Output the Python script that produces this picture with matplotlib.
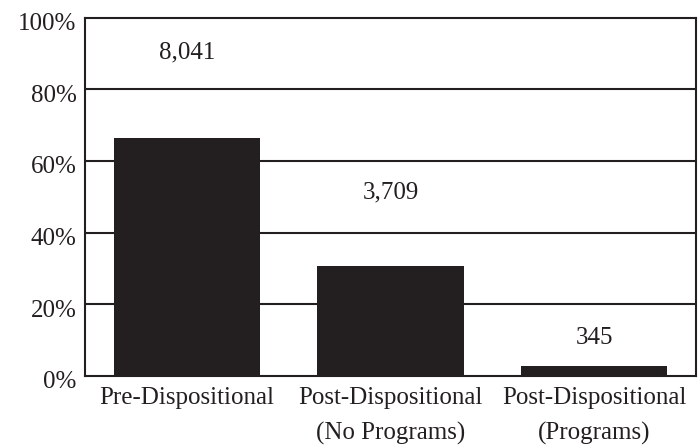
import matplotlib.pyplot as plt
import matplotlib.transforms as mtransforms
import numpy as np

# data
categories = ["Pre-Dispositional", "Post-Dispositional\n(No Programs)", "Post-Dispositional\n(Programs)"]
counts = [8041, 3709, 345]
count_labels = ["8,041", "3,709", "345"]
label_heights = [90.2, 51.1, 10.6]   # where the count text sits, in %
yticks = [0, 20, 40, 60, 80, 100]

ink = "#231f20"
fs = 18
plt.rcParams["font.family"] = ["Liberation Serif", "DejaVu Serif"]

shares = np.array(counts) / np.sum(counts) * 100
x = np.arange(len(categories))

fig = plt.figure(figsize=(6.99, 4.45), dpi=100)
ax = fig.add_axes([85 / 699, 1 - 376 / 445, (696 - 85) / 699, (376 - 17.5) / 445])

for t in yticks[1:-1]:
    ax.axhline(t, color=ink, lw=1.5, zorder=1)
ax.bar(x, shares, width=0.72, color=ink, zorder=2)

for xi, txt, h in zip(x, count_labels, label_heights):
    ax.text(xi, h, txt, ha="center", va="center", fontsize=fs, color=ink)

ax.set_xlim(-0.5, len(categories) - 0.5)
ax.set_ylim(0, 100)
ax.set_yticks(yticks)
ax.set_yticklabels([f"{t}%" for t in yticks], fontsize=fs, color=ink)
ax.set_xticks(x)
ax.set_xticklabels(categories, fontsize=fs, color=ink, linespacing=1.75, va="top")
ax.tick_params(length=0, pad=6)
ax.tick_params(axis="x", pad=8)

# nudge the y labels a bit down like in the original
off = mtransforms.ScaledTranslation(0, -4 / 100, fig.dpi_scale_trans)
for lab in ax.get_yticklabels():
    lab.set_transform(lab.get_transform() + off)

for s in ax.spines.values():
    s.set_color(ink)
    s.set_linewidth(1.5)

fig.savefig("out.png", dpi=100)
